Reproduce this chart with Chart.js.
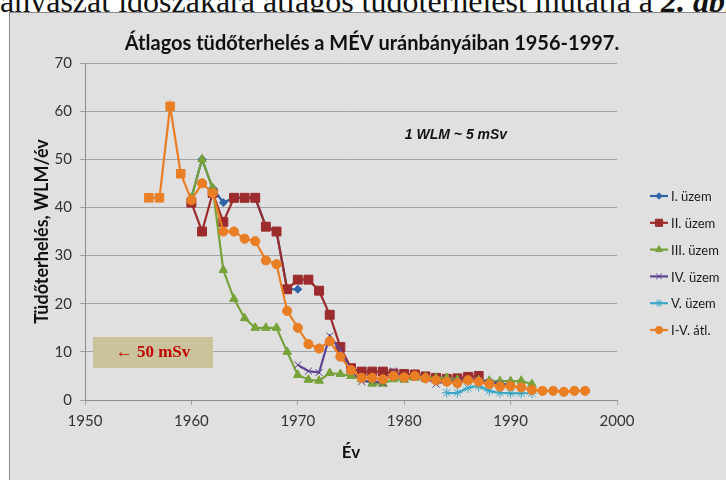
<!DOCTYPE html>
<html lang="hu">
<head>
<meta charset="utf-8">
<title>Átlagos tüdőterhelés a MÉV uránbányáiban 1956-1997.</title>
<script src="https://cdn.jsdelivr.net/npm/chart.js@4.4.1/dist/chart.umd.min.js"></script>
<style>
  html, body { margin: 0; padding: 0; background: #fff; width: 726px; height: 480px; overflow: hidden; }
  #doc { position: absolute; left: -16px; top: -15px; white-space: nowrap; font: 32px/32px "Liberation Serif", serif; color: #111; }
  #doc b { font-style: italic; }
  #frame { position: absolute; left: 9px; top: 12px; width: 716px; height: 467px; background: #e0e0e0; border: 1px solid #8a8a8a; }
  canvas { display: block; }
</style>
</head>
<body>
<div id="doc">bányászat időszakára átlagos tüdőterhelést mutatja a <b>2. ábra</b></div>
<div id="frame"><canvas id="wlmChart" width="716" height="467"></canvas></div>
<script>
/* =========================
   DATA
========================= */
const chartTitle = 'Átlagos tüdőterhelés a MÉV uránbányáiban 1956-1997.';
const seriesNames = ['I. üzem', 'II. üzem', 'III. üzem', 'IV. üzem', 'V. üzem', 'I-V. átl.'];

const plant1Years  = [1960, 1961, 1962, 1963, 1964, 1965, 1966, 1967, 1968, 1969, 1970];
const plant1Values = [42, 50, 44, 41, 42, 42, 42, 36, 35, 23, 23];

const plant2Years  = [1960, 1961, 1962, 1963, 1964, 1965, 1966, 1967, 1968, 1969, 1970, 1971, 1972, 1973,
                      1974, 1975, 1976, 1977, 1978, 1979, 1980, 1981, 1982, 1983, 1984, 1985, 1986, 1987];
const plant2Values = [41, 35, 43, 37, 42, 42, 42, 36, 35, 23, 25, 25, 22.7, 17.7,
                      11, 6.6, 5.9, 5.9, 5.9, 5.5, 5.4, 5.3, 4.9, 4.6, 4.4, 4.5, 4.8, 5.0];

const plant3Years  = [1960, 1961, 1962, 1963, 1964, 1965, 1966, 1967, 1968, 1969, 1970, 1971, 1972, 1973,
                      1974, 1975, 1976, 1977, 1978, 1979, 1980, 1981, 1982, 1983, 1984, 1985, 1986, 1987,
                      1988, 1989, 1990, 1991, 1992];
const plant3Values = [42, 50, 44, 27, 21, 17, 15, 15, 15, 10, 5.2, 4.2, 4, 5.6,
                      5.4, 5, 4.3, 3.4, 3.4, 4.3, 4.2, 4.6, 4.8, 4.6, 4.6, 4.2, 4.1, 4.1,
                      4, 3.9, 3.9, 4, 3.3];

const plant4Years  = [1970, 1971, 1972, 1973, 1974, 1975, 1976, 1977, 1978, 1979, 1980, 1981, 1982, 1983,
                      1984, 1985, 1986, 1987, 1988, 1989, 1990];
const plant4Values = [7.3, 6, 5.7, 13.3, 10.4, 6.2, 3.8, 4, 3.5, 6, 4.5, 5, 4.8, 3.3,
                      4.1, 4.0, 4.3, 4.2, 3.7, 3.4, 3.1];

const plant5Years  = [1984, 1985, 1986, 1987, 1988, 1989, 1990, 1991, 1992];
const plant5Values = [1.5, 1.5, 2.5, 2.8, 1.9, 1.5, 1.4, 1.4, 1.4];

const avgYears  = [1956, 1957, 1958, 1959, 1960, 1961, 1962, 1963, 1964, 1965, 1966, 1967, 1968, 1969,
                   1970, 1971, 1972, 1973, 1974, 1975, 1976, 1977, 1978, 1979, 1980, 1981, 1982, 1983,
                   1984, 1985, 1986, 1987, 1988, 1989, 1990, 1991, 1992, 1993, 1994, 1995, 1996, 1997];
const avgValues = [42, 42, 61, 47, 41.5, 45, 43, 35, 35, 33.5, 33, 29, 28.2, 18.5,
                   15, 11.6, 10.7, 12.2, 9, 6.2, 4.6, 4.6, 4.3, 5, 4.7, 5, 4.5, 4.1,
                   3.8, 3.5, 4.1, 3.8, 3.3, 2.8, 2.9, 2.6, 2.1, 1.9, 1.9, 1.7, 1.9, 1.9];

const xTicks = [1950, 1960, 1970, 1980, 1990, 2000];
const yTicks = [0, 10, 20, 30, 40, 50, 60, 70];

/* =========================
   HELPERS
========================= */
function toPoints(years, values) {
    return years.map((yr, i) => ({ x: yr, y: values[i] }));
}

const seriesStyle = {
    'I. üzem':   { color: '#2f63a8', point: 'rectRot',  radius: 4 },
    'II. üzem':  { color: '#9b2b2d', point: 'rect',     radius: 6.3 },
    'III. üzem': { color: '#77a23a', point: 'triangle', radius: 5 },
    'IV. üzem':  { color: '#5d4391', point: 'crossRot', radius: 5 },
    'V. üzem':   { color: '#3aa6c4', point: 'star',     radius: 5 },
    'I-V. átl.': { color: '#e97e24', point: 'circle',   radius: 4.6 }
};

function makeDataset(name, years, values) {
    const s = seriesStyle[name];
    return {
        label: name,
        data: toPoints(years, values),
        borderColor: s.color,
        backgroundColor: s.color,
        pointBackgroundColor: s.color,
        pointBorderColor: s.color,
        pointStyle: s.point,
        pointRadius: s.radius,
        pointBorderWidth: 1,
        borderWidth: 2.2,
        tension: name === 'V. üzem' ? 0.4 : 0
    };
}

/* =========================
   EXTRA DRAWING (title, legend, notes)
========================= */
const notesPlugin = {
    id: 'notes',
    afterDraw(chart) {
        const ctx = chart.ctx;
        ctx.save();
        ctx.textBaseline = 'middle';
        ctx.textAlign = 'center';

        // title, centred on the whole frame
        ctx.fillStyle = '#111';
        ctx.font = 'bold 20px Lato, sans-serif';
        ctx.fillText(chartTitle, 362, 31);

        // "1 WLM ~ 5 mSv"
        ctx.font = 'italic bold 14px "Liberation Sans", Arial, sans-serif';
        ctx.fillText('1 WLM ~ 5 mSv', 446, 122);

        // tan box with "← 50 mSv"
        ctx.fillStyle = '#cbc39b';
        ctx.fillRect(83, 324, 120, 31);
        ctx.fillStyle = '#c00000';
        ctx.font = 'bold 17px "Liberation Serif", "DejaVu Serif", serif';
        ctx.fillText('← 50 mSv', 143, 340);

        // legend at the right
        ctx.font = '13px Lato, sans-serif';
        ctx.textAlign = 'left';
        seriesNames.forEach((name, i) => {
            const s = seriesStyle[name];
            const y = 183 + i * 26.8;
            ctx.strokeStyle = s.color;
            ctx.lineWidth = 2.2;
            ctx.beginPath();
            ctx.moveTo(640, y);
            ctx.lineTo(658, y);
            ctx.stroke();
            ctx.fillStyle = s.color;
            ctx.lineWidth = 1;
            Chart.helpers.drawPoint(ctx, { pointStyle: s.point, radius: s.radius * 0.8, borderWidth: 1 }, 649, y);
            ctx.fillStyle = '#1a1a1a';
            ctx.fillText(name, 661, y + 1);
        });

        ctx.restore();
    }
};

/* =========================
   CHART
========================= */
const avgDataset = makeDataset('I-V. átl.', avgYears, avgValues);
// the first four yearly averages are drawn as squares in the source figure
avgDataset.pointStyle = avgYears.map(yr => (yr < 1960 ? 'rect' : 'circle'));
avgDataset.pointRadius = avgYears.map(yr => (yr < 1960 ? 6 : 4.6));

const gridColor = '#a3a3a3';
const textColor = '#333';

new Chart(document.getElementById('wlmChart'), {
    type: 'line',
    data: {
        // first dataset is painted last, so the average ends up on top
        datasets: [
            avgDataset,
            makeDataset('V. üzem', plant5Years, plant5Values),
            makeDataset('IV. üzem', plant4Years, plant4Values),
            makeDataset('III. üzem', plant3Years, plant3Values),
            makeDataset('II. üzem', plant2Years, plant2Values),
            makeDataset('I. üzem', plant1Years, plant1Values)
        ]
    },
    options: {
        responsive: false,
        animation: false,
        events: [],
        layout: { padding: { left: 0, right: 109, top: 50, bottom: 0 } },
        plugins: {
            legend: { display: false },
            tooltip: { enabled: false },
            title: { display: false }
        },
        scales: {
            x: {
                type: 'linear',
                min: xTicks[0],
                max: xTicks[xTicks.length - 1],
                afterBuildTicks: scale => { scale.ticks = xTicks.map(v => ({ value: v })); },
                afterFit: scale => { scale.height = 80; },
                grid: { drawOnChartArea: false, drawTicks: true, tickLength: 5, color: gridColor },
                border: { color: '#8c8c8c', width: 1 },
                ticks: {
                    color: textColor,
                    padding: 7,
                    font: { family: 'Lato', size: 15 },
                    callback: v => String(v)
                },
                title: {
                    display: true,
                    text: 'Év',
                    color: '#111',
                    font: { family: 'Lato', size: 17, weight: 'bold', lineHeight: 1.2 },
                    padding: { top: 17, bottom: 17 }
                }
            },
            y: {
                min: yTicks[0],
                max: yTicks[yTicks.length - 1],
                afterBuildTicks: scale => { scale.ticks = yTicks.map(v => ({ value: v })); },
                afterFit: scale => { scale.width = 75; },
                grid: { color: gridColor, lineWidth: 1, tickLength: 5 },
                border: { color: '#8c8c8c', width: 1 },
                ticks: {
                    color: textColor,
                    padding: 8,
                    font: { family: 'Lato', size: 15 }
                },
                title: {
                    display: true,
                    text: 'Tüdőterhelés, WLM/év',
                    color: '#111',
                    font: { family: 'Lato', size: 18, weight: 'bold', lineHeight: 1.2 },
                    padding: { top: 21, bottom: 21 }
                }
            }
        }
    },
    plugins: [notesPlugin]
});
</script>
</body>
</html>
